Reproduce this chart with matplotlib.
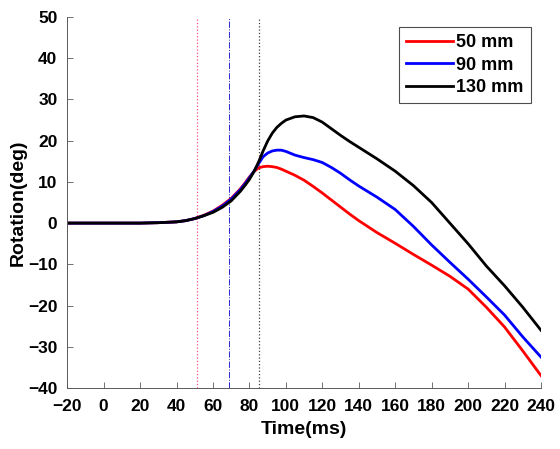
import matplotlib
matplotlib.use('Agg')
import matplotlib.pyplot as plt

plt.rcParams['font.family'] = ['Liberation Sans', 'DejaVu Sans']
plt.rcParams['font.weight'] = 'bold'

# time points (ms)
t = [-20, 0, 20, 30, 40, 45, 50, 55, 60, 65, 70, 75, 77.5, 80, 82.5, 85, 87.5, 90,
     92.5, 95, 97.5, 100, 105, 110, 115, 120, 125, 130, 135, 140, 150, 160, 170,
     180, 190, 200, 210, 220, 230, 240]

# rotation (deg) for each rod length
rot_50 = [0, 0, 0, 0.1, 0.3, 0.6, 1.1, 1.9, 2.9, 4.3, 6.0, 8.3, 9.7, 11.2, 12.5, 13.4,
          13.7, 13.8, 13.7, 13.5, 13.1, 12.6, 11.6, 10.4, 8.9, 7.3, 5.6, 3.9, 2.2, 0.6,
          -2.3, -4.9, -7.6, -10.2, -12.9, -16.0, -20.4, -25.2, -31.0, -37.0]
rot_90 = [0, 0, 0, 0.1, 0.3, 0.6, 1.1, 1.8, 2.8, 4.1, 5.8, 8.1, 9.5, 11.0, 12.6, 14.4,
          16.1, 17.0, 17.5, 17.7, 17.7, 17.4, 16.5, 15.9, 15.4, 14.7, 13.5, 12.1, 10.5,
          9.0, 6.3, 3.3, -0.8, -5.3, -9.5, -13.6, -17.9, -22.3, -27.6, -32.5]
rot_130 = [0, 0, 0, 0.1, 0.3, 0.6, 1.1, 1.8, 2.6, 3.8, 5.4, 7.7, 9.1, 10.6, 12.5, 14.8,
           17.5, 19.9, 21.8, 23.2, 24.2, 25.0, 25.8, 26.0, 25.6, 24.5, 22.9, 21.3,
           19.8, 18.4, 15.6, 12.6, 9.1, 5.0, 0.0, -5.0, -10.4, -15.2, -20.4, -26.0]

# event markers (ms)
events = [51, 69, 85]

fig = plt.figure(figsize=(5.6, 4.49), dpi=100)
ax = fig.add_axes([0.12, 0.136, 0.846, 0.826])

ax.axvline(events[0], color='#ff4f7f', ls=':', lw=0.9)
ax.axvline(events[1], color='#2a2ad0', ls='-.', lw=0.7)
ax.axvline(events[2], color='#404040', ls=':', lw=0.9)

ax.plot(t, rot_50, color='#ff0000', lw=2.0, label='50 mm')
ax.plot(t, rot_90, color='#0000ff', lw=2.0, label='90 mm')
ax.plot(t, rot_130, color='#000000', lw=2.0, label='130 mm')

ax.set_xlim(-20, 240)
ax.set_ylim(-40, 50)
ax.set_xticks(range(-20, 241, 20))
ax.set_yticks(range(-40, 51, 10))
ax.tick_params(direction='in', length=4, width=0.6, color='0.35', labelsize=12.5)
ax.tick_params(axis='x', pad=8)
ax.tick_params(axis='y', pad=7)
for s in ['top', 'right']:
    ax.spines[s].set_visible(False)
for s in ['left', 'bottom']:
    ax.spines[s].set_color('0.35')
    ax.spines[s].set_linewidth(0.7)

ax.set_xlabel('Time(ms)', fontsize=14, fontweight='bold', labelpad=5)
ax.set_ylabel('Rotation(deg)', fontsize=14, fontweight='bold', labelpad=1)

leg = ax.legend(loc='upper right', bbox_to_anchor=(0.979, 0.973), borderaxespad=0,
                fancybox=False, fontsize=13, handlelength=2.6, handletextpad=0.2,
                labelspacing=0.3, borderpad=0.4, framealpha=1)
leg.get_frame().set_edgecolor('0.3')
leg.get_frame().set_linewidth(0.8)

fig.savefig('out.png', dpi=100)
